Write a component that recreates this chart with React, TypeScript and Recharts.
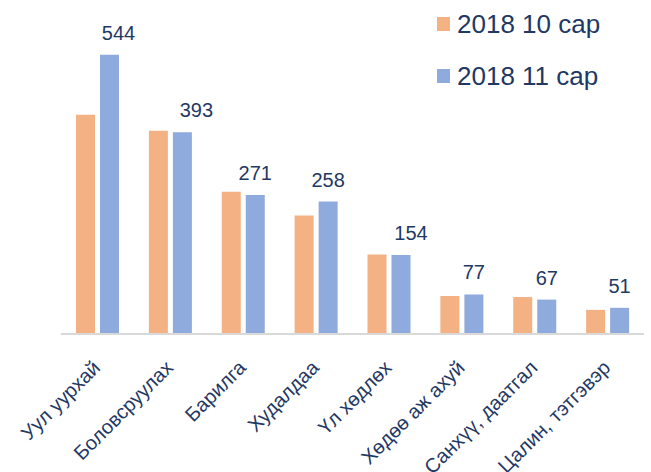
import { Bar, BarChart, LabelList, Legend, XAxis, YAxis } from "recharts";

const categories = [
  "Уул уурхай",
  "Боловсруулах",
  "Барилга",
  "Худалдаа",
  "Үл хөдлөх",
  "Хөдөө аж ахуй",
  "Санхүү, даатгал",
  "Цалин, тэтгэвэр",
];
const oct2018 = [427, 396, 277, 231, 155, 74, 72, 47];
const nov2018 = [544, 393, 271, 258, 154, 77, 67, 51];
const seriesNames = ["2018 10 сар", "2018 11 сар"];

// the first few value labels sit a bit right of their bars in the original
const labelNudge = [9, 14, 0, 0, 10, 0, 0, 0];

const ORANGE = "#F4B183";
const BLUE = "#8FAADC";
const INK = "#1F3864";
const FONT = "'Liberation Sans', Arial, sans-serif";

const data = categories.map((name, i) => ({
  name,
  oct: oct2018[i],
  nov: nov2018[i],
}));

function CategoryTick(props: any) {
  const { x, y, payload } = props;
  return (
    <text
      transform={`translate(${x + 4}, ${y + 35}) rotate(-45)`}
      textAnchor="end"
      fontSize={20}
      fontFamily={FONT}
      fill={INK}
    >
      {payload.value}
    </text>
  );
}

function ValueLabel(props: any) {
  const { x, y, width, value, index } = props;
  return (
    <text
      x={x + width / 2 + (labelNudge[index] ?? 0)}
      y={y - 15}
      textAnchor="middle"
      fontSize={20}
      fontFamily={FONT}
      fill={INK}
    >
      {value}
    </text>
  );
}

function LegendBox() {
  const colors = [ORANGE, BLUE];
  return (
    <div style={{ fontFamily: FONT }}>
      {seriesNames.map((s, i) => (
        <div
          key={s}
          style={{
            display: "flex",
            alignItems: "center",
            height: 52,
            color: INK,
            fontSize: 26,
          }}
        >
          <span
            style={{
              width: 13,
              height: 14,
              background: colors[i],
              marginRight: 7,
              display: "inline-block",
            }}
          />
          {s}
        </div>
      ))}
    </div>
  );
}

export default function App() {
  return (
    <div style={{ position: "absolute", left: 0, top: 0, background: "#fff" }}>
      <BarChart
        width={651}
        height={472}
        data={data}
        margin={{ top: 26, right: 7, bottom: 0, left: 61 }}
        barGap={5}
        barSize={19}
      >
        <XAxis
          dataKey="name"
          height={138}
          interval={0}
          tickLine={false}
          tickSize={0}
          tickMargin={0}
          axisLine={{ stroke: "#D9D9D9", strokeWidth: 2 }}
          tick={<CategoryTick />}
        />
        <YAxis hide domain={[0, 600]} />
        <Legend
          layout="vertical"
          align="center"
          verticalAlign="middle"
          content={<LegendBox />}
          wrapperStyle={{ left: 437, top: -2, width: 214 }}
        />
        <Bar dataKey="oct" name={seriesNames[0]} fill={ORANGE} isAnimationActive={false} />
        <Bar dataKey="nov" name={seriesNames[1]} fill={BLUE} isAnimationActive={false}>
          <LabelList dataKey="nov" content={<ValueLabel />} />
        </Bar>
      </BarChart>
    </div>
  );
}
